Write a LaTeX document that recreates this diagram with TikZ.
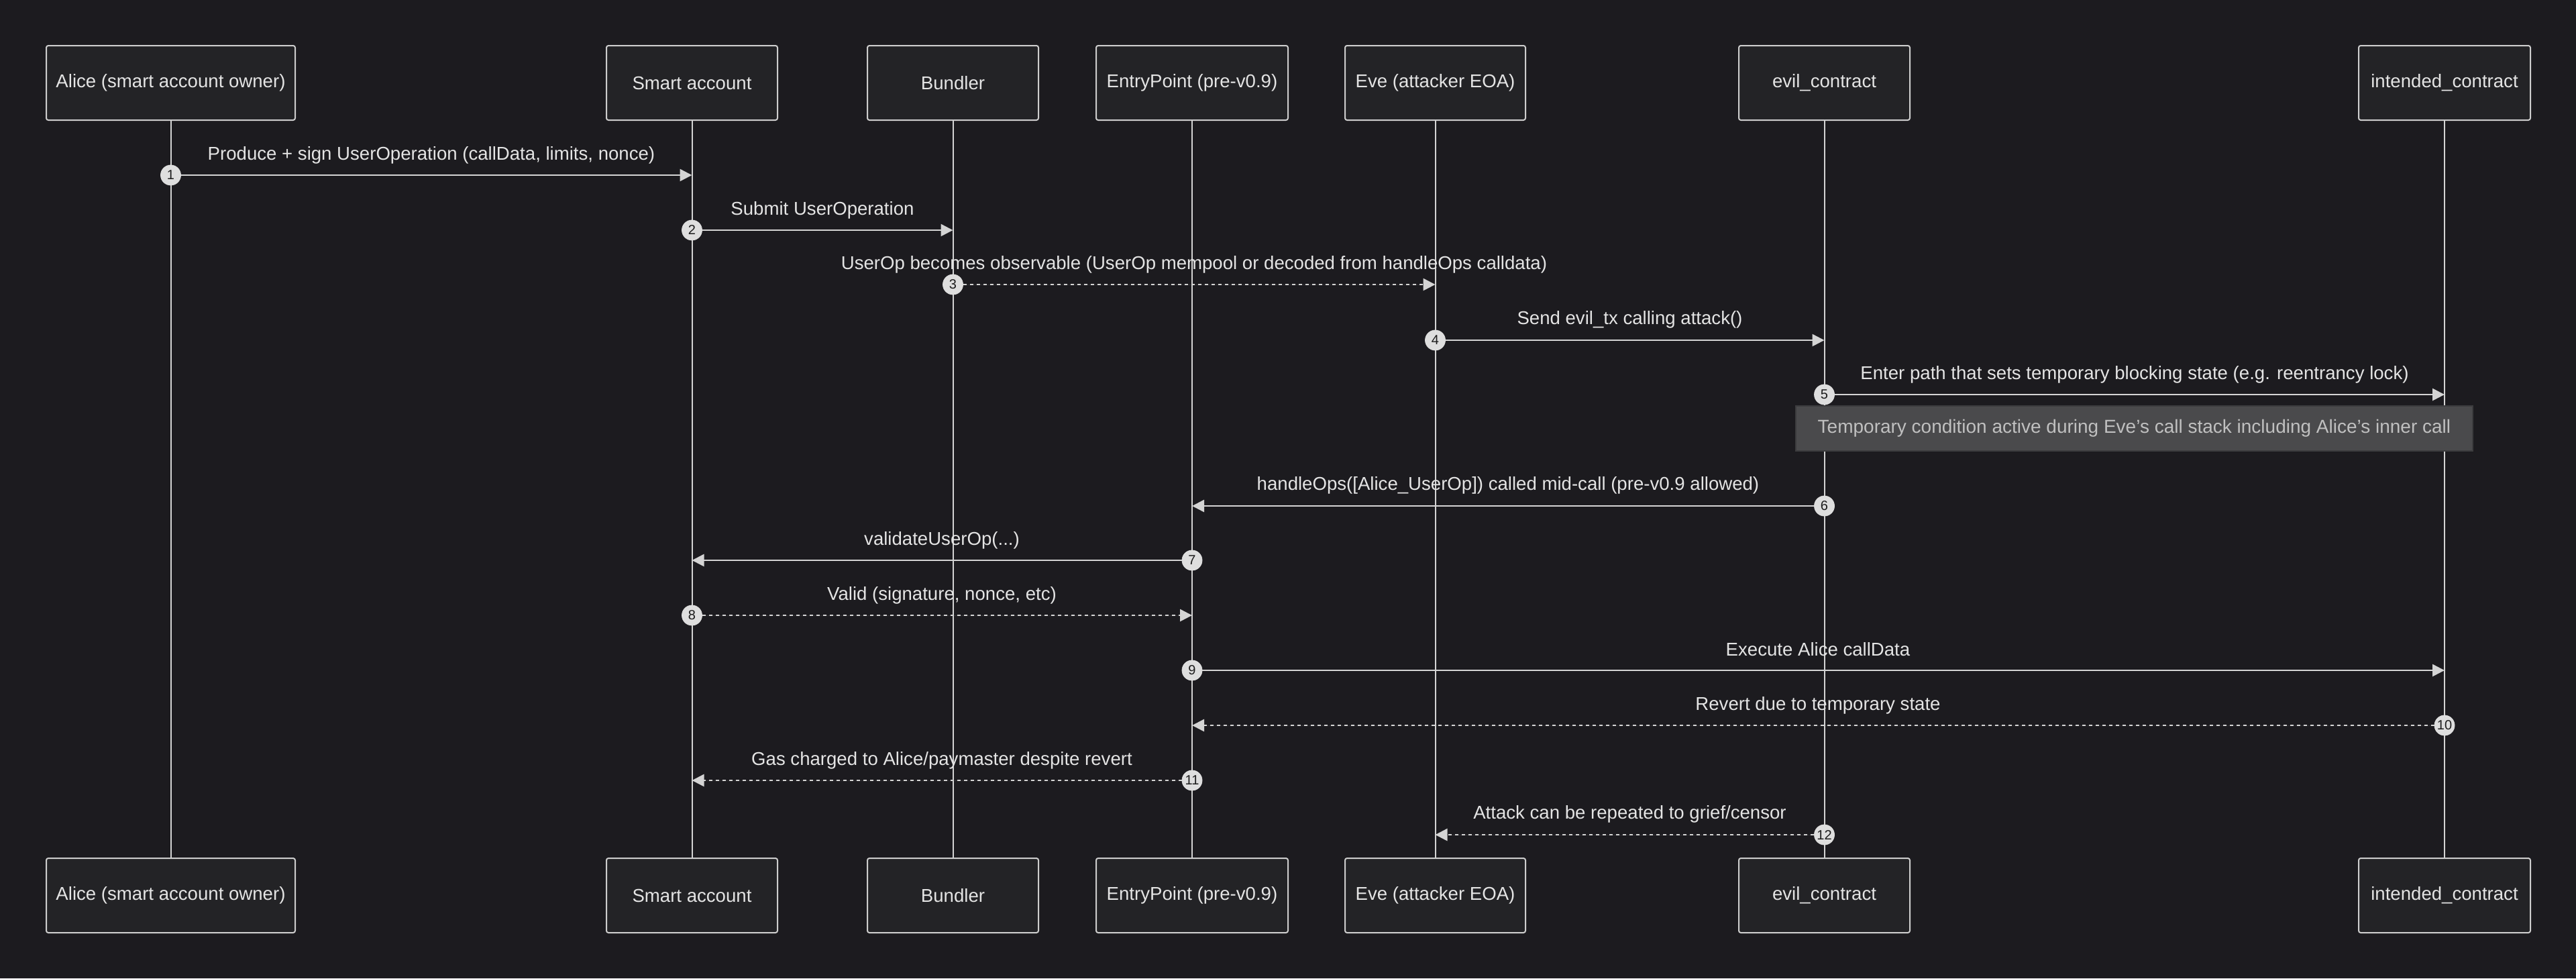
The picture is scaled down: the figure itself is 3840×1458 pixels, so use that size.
\documentclass[tikz,border=0pt]{standalone}
\usepackage{fontspec}
\setmainfont{Liberation Sans}
\usetikzlibrary{arrows.meta}
\definecolor{bgc}{RGB}{28,27,31}
\definecolor{boxfill}{RGB}{35,35,38}
\definecolor{boxline}{RGB}{205,205,205}
\definecolor{linec}{RGB}{212,212,212}
\definecolor{txt}{RGB}{228,228,228}
\definecolor{notefill}{RGB}{74,74,76}
\definecolor{noteline}{RGB}{60,60,62}
\definecolor{notetxt}{RGB}{192,192,192}
\definecolor{numfill}{RGB}{222,222,222}
\definecolor{numtxt}{RGB}{28,28,28}
\tikzset{
  actor/.style={draw=boxline, fill=boxfill, line width=1pt, rounded corners=1.5pt,
    minimum height=55.5pt, inner sep=0pt, text=txt, font=\fontsize{13.8}{16}\selectfont},
  life/.style={draw=linec, line width=1pt},
  msg/.style={draw=linec, line width=1.3pt, -{Triangle[length=9pt,width=9pt]}, fill=linec},
  rmsg/.style={msg, dash pattern=on 2.5pt off 2.5pt},
  lbl/.style={text=txt, font=\fontsize{13.8}{16}\selectfont, inner sep=0pt},
  num/.style={circle, fill=numfill, draw=numfill, minimum size=15pt, inner sep=0pt,
    text=numtxt, font=\fontsize{10}{10}\selectfont},
  note/.style={draw=noteline, fill=notefill, line width=1pt, minimum width=504.5pt,
    minimum height=33.5pt, inner sep=0pt, text=notetxt, font=\fontsize{14}{16}\selectfont}
}
\begin{document}
\begin{tikzpicture}[x=0.5pt,y=-0.5pt]
\fill[bgc] (0,0) rectangle (3840,1458);
\useasboundingbox (0,0) rectangle (3840,1458);

% participants (top)
\node[actor, minimum width=185.5pt] (aT) at (254.5,123.5) {Alice (smart account owner)};
\node[actor, minimum width=127.5pt] (sT) at (1031.5,123.5) {Smart account};
\node[actor, minimum width=127.5pt] (bT) at (1420.5,123.5) {Bundler};
\node[actor, minimum width=143pt] (epT) at (1777,123.5) {EntryPoint (pre-v0.9)};
\node[actor, minimum width=134.5pt] (eT) at (2139.5,123.5) {Eve (attacker EOA)};
\node[actor, minimum width=127.5pt] (evT) at (2719.5,123.5) {evil\_contract};
\node[actor, minimum width=128pt] (iT) at (3644,123.5) {intended\_contract};
% participants (bottom)
\node[actor, minimum width=185.5pt] (aB) at (254.5,1334.5) {Alice (smart account owner)};
\node[actor, minimum width=127.5pt] (sB) at (1031.5,1334.5) {Smart account};
\node[actor, minimum width=127.5pt] (bB) at (1420.5,1334.5) {Bundler};
\node[actor, minimum width=143pt] (epB) at (1777,1334.5) {EntryPoint (pre-v0.9)};
\node[actor, minimum width=134.5pt] (eB) at (2139.5,1334.5) {Eve (attacker EOA)};
\node[actor, minimum width=127.5pt] (evB) at (2719.5,1334.5) {evil\_contract};
\node[actor, minimum width=128pt] (iB) at (3644,1334.5) {intended\_contract};

% lifelines
\draw[life] (aT.south) -- (aB.north);
\draw[life] (sT.south) -- (sB.north);
\draw[life] (bT.south) -- (bB.north);
\draw[life] (epT.south) -- (epB.north);
\draw[life] (eT.south) -- (eB.north);
\draw[life] (evT.south) -- (evB.north);
\draw[life] (iT.south) -- (iB.north);

% note
\node[note] (nt) at (3181.5,638.5) {Temporary condition active during Eve's call stack including Alice’s inner call};

% messages
\node[num] (n1) at (254.5,261) {1};
\coordinate (e1) at (1031.5,261);
\draw[msg] (n1) -- (e1);
\node[lbl] (l1) at (643,231) {Produce + sign UserOperation (callData, limits, nonce)};

\node[num] (n2) at (1031.5,343) {2};
\coordinate (e2) at (1420.5,343);
\draw[msg] (n2) -- (e2);
\node[lbl] (l2) at (1226,313) {Submit UserOperation};

\node[num] (n3) at (1420.5,424) {3};
\coordinate (e3) at (2139.5,424);
\draw[rmsg] (n3) -- (e3);
\node[lbl] (l3) at (1780,394) {UserOp becomes observable (UserOp mempool or decoded from handleOps calldata)};

\node[num] (n4) at (2139.5,507) {4};
\coordinate (e4) at (2719.5,507);
\draw[msg] (n4) -- (e4);
\node[lbl] (l4) at (2429.5,476) {Send evil\_tx calling attack()};

\node[num] (n5) at (2719.5,588) {5};
\coordinate (e5) at (3644,588);
\draw[msg] (n5) -- (e5);
\node[lbl] (l5) at (3182,558) {Enter path that sets temporary blocking state (e.g. reentrancy lock)};

\node[num] (n6) at (2719.5,754) {6};
\coordinate (e6) at (1777,754);
\draw[msg] (n6) -- (e6);
\node[lbl] (l6) at (2248,723) {handleOps([Alice\_UserOp]) called mid-call (pre-v0.9 allowed)};

\node[num] (n7) at (1777,835) {7};
\coordinate (e7) at (1031.5,835);
\draw[msg] (n7) -- (e7);
\node[lbl] (l7) at (1404,805) {validateUserOp(...)};

\node[num] (n8) at (1031.5,917) {8};
\coordinate (e8) at (1777,917);
\draw[rmsg] (n8) -- (e8);
\node[lbl] (l8) at (1404,887) {Valid (signature, nonce, etc)};

\node[num] (n9) at (1777,999) {9};
\coordinate (e9) at (3644,999);
\draw[msg] (n9) -- (e9);
\node[lbl] (l9) at (2710,968) {Execute Alice callData};

\node[num] (n10) at (3644,1081) {10};
\coordinate (e10) at (1777,1081);
\draw[rmsg] (n10) -- (e10);
\node[lbl] (l10) at (2710,1051) {Revert due to temporary state};

\node[num] (n11) at (1777,1163) {11};
\coordinate (e11) at (1031.5,1163);
\draw[rmsg] (n11) -- (e11);
\node[lbl] (l11) at (1404,1133) {Gas charged to Alice/paymaster despite revert};

\node[num] (n12) at (2719.5,1244) {12};
\coordinate (e12) at (2139.5,1244);
\draw[rmsg] (n12) -- (e12);
\node[lbl] (l12) at (2429.5,1213) {Attack can be repeated to grief/censor};
\end{tikzpicture}
\end{document}
